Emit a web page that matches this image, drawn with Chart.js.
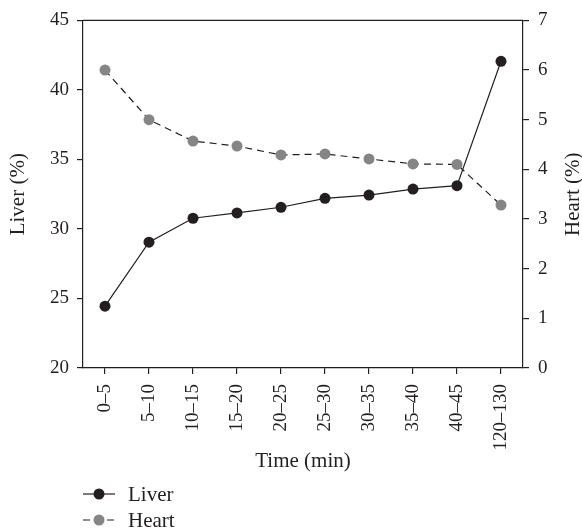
<!DOCTYPE html>
<html>
<head>
<meta charset="utf-8">
<script src="https://cdn.jsdelivr.net/npm/chart.js@4"></script>
<style>
  html, body { margin: 0; padding: 0; background: #fff; }
  #wrap { width: 582px; height: 529px; }
</style>
</head>
<body>
<div id="wrap"><canvas id="myChart" width="582" height="529"></canvas></div>
<script>
let labels = ['0–5', '5–10', '10–15', '15–20', '20–25', '25–30', '30–35', '35–40', '40–45', '120–130'];
let liver = [24.45, 29.05, 30.77, 31.15, 31.56, 32.2, 32.44, 32.87, 33.11, 42.06];
let heart = [6.0, 5.0, 4.57, 4.47, 4.29, 4.31, 4.21, 4.11, 4.1, 3.28];
let liverTicks = [20, 25, 30, 35, 40, 45];
let heartTicks = [0, 1, 2, 3, 4, 5, 6, 7];

let ink = '#231f20';
let grey = '#858585';
let serif = "'Liberation Serif', 'Times New Roman', serif";

// legend, top frame line and right axis title (reads upward like the left one)
let extras = {
    id: 'extras',
    afterDraw(chart) {
        let c = chart.ctx;
        let a = chart.chartArea;
        c.save();
        c.strokeStyle = ink;
        c.lineWidth = 1.2;
        c.beginPath();
        c.moveTo(a.left, a.top);
        c.lineTo(a.right, a.top);
        c.stroke();

        c.save();
        c.translate(573, (a.top + a.bottom) / 2);
        c.rotate(-Math.PI / 2);
        c.fillStyle = ink;
        c.font = '21px ' + serif;
        c.textAlign = 'center';
        c.textBaseline = 'middle';
        c.fillText('Heart (%)', 0, 0);
        c.restore();

        let rows = [494, 520];
        chart.data.datasets.forEach((ds, i) => {
            let y = rows[i];
            c.strokeStyle = ds.borderColor;
            c.lineWidth = 1.2;
            c.setLineDash(ds.borderDash || []);
            c.beginPath();
            c.moveTo(83, y);
            c.lineTo(115, y);
            c.stroke();
            c.setLineDash([]);
            c.fillStyle = ds.pointBackgroundColor;
            c.beginPath();
            c.arc(99, y, 5.5, 0, Math.PI * 2);
            c.fill();
            c.fillStyle = ink;
            c.font = '21px ' + serif;
            c.textBaseline = 'middle';
            c.fillText(ds.label, 128, y + 1);
        });
        c.restore();
    }
};

let ctx = document.getElementById('myChart').getContext('2d');

let myChart = new Chart(ctx, {
    type: 'line',
    data: {
        labels: labels,
        datasets: [{
            label: 'Liver',
            data: liver,
            yAxisID: 'y',
            borderColor: ink,
            borderWidth: 1.2,
            pointBackgroundColor: ink,
            pointBorderColor: ink,
            pointRadius: 5.5,
            pointBorderWidth: 0,
            tension: 0
        }, {
            label: 'Heart',
            data: heart,
            yAxisID: 'y1',
            borderColor: ink,
            borderWidth: 1.2,
            borderDash: [7, 5],
            pointBackgroundColor: grey,
            pointBorderColor: grey,
            pointRadius: 5.5,
            pointBorderWidth: 0,
            tension: 0
        }]
    },
    options: {
        responsive: false,
        animation: false,
        layout: { padding: { top: 19, bottom: 0, left: 0, right: 0 } },
        plugins: {
            legend: { display: false },
            tooltip: { enabled: false }
        },
        scales: {
            x: {
                offset: true,
                grid: { drawOnChartArea: false, offset: false, tickLength: 6, color: ink, lineWidth: 1.2 },
                border: { color: ink, width: 1.2 },
                ticks: { color: ink, font: { family: serif, size: 19 }, minRotation: 90, maxRotation: 90, padding: 10, autoSkip: false },
                title: { display: true, text: 'Time (min)', color: ink, font: { family: serif, size: 21, lineHeight: 1 }, padding: { top: 0, bottom: 57 } },
                afterFit: (s) => { s.height = 161; }
            },
            y: {
                position: 'left',
                min: 20,
                max: 45,
                afterBuildTicks: (s) => { s.ticks = liverTicks.map(v => ({ value: v })); },
                grid: { drawOnChartArea: false, tickLength: 6, color: ink, lineWidth: 1.2 },
                border: { color: ink, width: 1.2 },
                ticks: { color: ink, font: { family: serif, size: 19 }, padding: 8 },
                title: { display: true, text: 'Liver (%)', color: ink, font: { family: serif, size: 21, lineHeight: 1 }, padding: { top: 8, bottom: 0 } },
                afterFit: (s) => { s.width = 83; }
            },
            y1: {
                position: 'right',
                min: 0,
                max: 7,
                afterBuildTicks: (s) => { s.ticks = heartTicks.map(v => ({ value: v })); },
                grid: { drawOnChartArea: false, tickLength: 6, color: ink, lineWidth: 1.2 },
                border: { color: ink, width: 1.2 },
                ticks: { color: ink, font: { family: serif, size: 19 }, padding: 9 },
                title: { display: false },
                afterFit: (s) => { s.width = 59; }
            }
        }
    },
    plugins: [extras]
});
</script>
</body>
</html>
